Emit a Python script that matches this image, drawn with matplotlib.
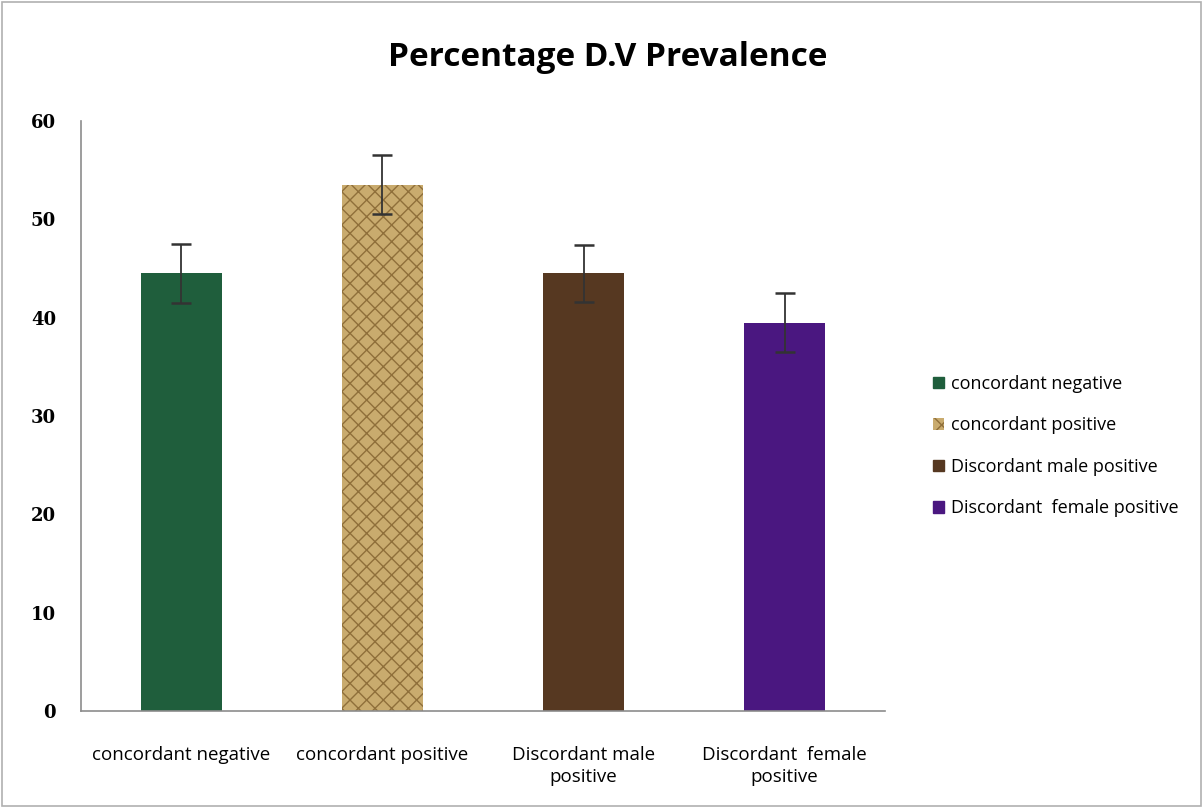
import matplotlib
matplotlib.use("Agg")
import matplotlib.pyplot as plt
from matplotlib.patches import Patch

categories = ["concordant negative", "concordant positive",
              "Discordant male\npositive", "Discordant  female\npositive"]
legend_labels = ["concordant negative", "concordant positive",
                 "Discordant male positive", "Discordant  female positive"]
values = [44.5, 53.5, 44.5, 39.5]
errors = [3.0, 3.0, 2.9, 3.0]
yticks = [0, 10, 20, 30, 40, 50, 60]

colors = ["#1f5e3c", "#c9ab6e", "#563821", "#4a1780"]
hatch_colors = ["#3f8a62", "#8f6f3a", "#7a5638", "#6a34a8"]
hatches = ["", "xx", "", ""]

fig = plt.figure(figsize=(12.03, 8.08), dpi=100)
fig.patch.set_facecolor("white")
ax = fig.add_axes([0.0673, 0.12, 0.6684, 0.7302])

x = [i + 0.5 for i in range(len(values))]
bars = ax.bar(x, values, width=0.4, color=colors, edgecolor=colors, linewidth=0)
for b, h, hc in zip(bars, hatches, hatch_colors):
    if h:
        b.set_hatch(h)
        b.set_edgecolor(hc)
        b.set_linewidth(0)
ax.errorbar(x, values, yerr=errors, fmt="none", ecolor="#333333",
            elinewidth=1.3, capsize=7, capthick=1.8)

ax.set_xlim(0, 4)
ax.set_ylim(0, 60)
ax.set_yticks(yticks)
ax.set_yticklabels([str(t) for t in yticks], fontfamily="DejaVu Serif",
                   fontweight="bold", fontsize=13)
ax.set_xticks(x)
ax.set_xticklabels(categories, fontfamily="Open Sans", fontsize=13.5,
                   linespacing=1.3)
ax.tick_params(axis="both", length=0)
ax.tick_params(axis="x", pad=25)
ax.tick_params(axis="y", pad=18)
for s in ["top", "right"]:
    ax.spines[s].set_visible(False)
for s in ["left", "bottom"]:
    ax.spines[s].set_color("#8c8c8c")
    ax.spines[s].set_linewidth(1.2)

fig.text(0.505, 0.929, "Percentage D.V Prevalence", ha="center", va="center",
         fontsize=24, fontweight="bold", fontfamily="Open Sans")

handles = [Patch(facecolor=c, edgecolor=c) for c in colors]
handles[1] = Patch(facecolor=colors[1], edgecolor=hatch_colors[1], hatch="xx", linewidth=0)
leg = fig.legend(handles, legend_labels, loc="center left",
                 bbox_to_anchor=(0.762, 0.448), frameon=False,
                 prop={"family": "Open Sans", "size": 13},
                 handlelength=0.6, handleheight=0.6, handletextpad=0.4,
                 labelspacing=1.3)

border = plt.Rectangle((0.002, 0.002), 0.996, 0.996, transform=fig.transFigure,
                       fill=False, edgecolor="#b0b0b0", linewidth=1.2)
fig.patches.append(border)

fig.savefig("out.png", dpi=100, facecolor="white")
